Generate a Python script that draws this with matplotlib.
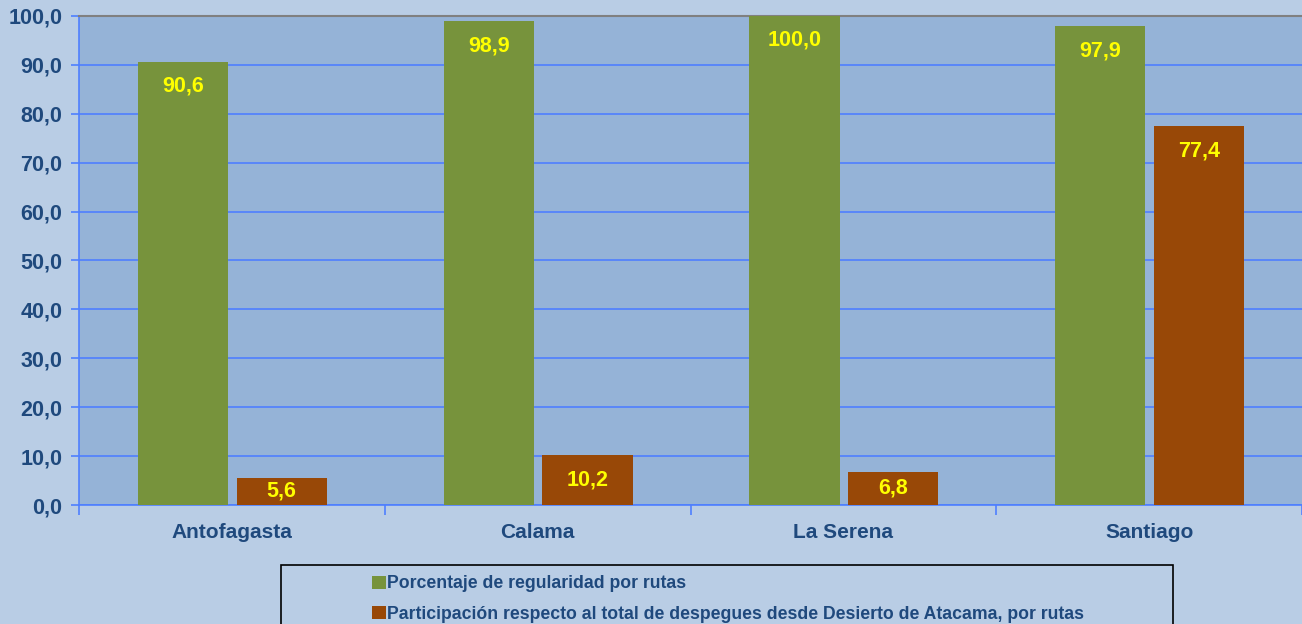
import matplotlib
matplotlib.use("Agg")
import matplotlib.pyplot as plt
import numpy as np
from matplotlib.patches import Rectangle

plt.rcParams['font.family'] = ['Liberation Sans', 'DejaVu Sans']

routes = ["Antofagasta", "Calama", "La Serena", "Santiago"]
regularidad = [90.6, 98.9, 100.0, 97.9]
participacion = [5.6, 10.2, 6.8, 77.4]
series_names = ["Porcentaje de regularidad por rutas",
                "Participación respecto al total de despegues desde Desierto de Atacama, por rutas"]
yticks = [0, 10, 20, 30, 40, 50, 60, 70, 80, 90, 100]

fig_bg = "#B9CDE5"
ax_bg = "#95B3D7"
green = "#77933C"
brown = "#984807"
navy = "#1F497D"
gridblue = "#4F7FFF"

fig = plt.figure(figsize=(13.02, 6.24), dpi=100, facecolor=fig_bg)
ax = fig.add_axes([0.0607, 0.1907, 0.9393, 0.7837], facecolor=ax_bg)

x = np.arange(len(routes))
w = 0.295
b1 = ax.bar(x - 0.16, regularidad, w, color=green, zorder=3)
b2 = ax.bar(x + 0.163, participacion, w, color=brown, zorder=3)

# labels sit a fixed distance below the bar top, or mid-bar for short bars
for bars, vals in ((b1, regularidad), (b2, participacion)):
    for r, v in zip(bars, vals):
        ax.text(r.get_x() + r.get_width() / 2, max(v - 5.0, v / 2),
                f"{v:.1f}".replace(".", ","), ha="center", va="center",
                color="#FFFF00", fontsize=15.5, fontweight="bold", zorder=4)

ax.set_xlim(-0.5, 3.5)
ax.set_ylim(0, 100)
ax.set_yticks(yticks)
ax.set_yticklabels([f"{t:.1f}".replace(".", ",") for t in yticks],
                   fontsize=15.5, fontweight="bold", color=navy)
ax.yaxis.grid(True, color=gridblue, linewidth=1.2, zorder=1)
ax.set_axisbelow(True)

ax.set_xticks(np.arange(-0.5, 4.0, 1.0))
ax.set_xticklabels([])
ax.set_xticks(x, minor=True)
ax.set_xticklabels(routes, minor=True, fontsize=15, fontweight="bold", color=navy)
ax.tick_params(axis="x", which="minor", length=0, pad=13)
ax.tick_params(axis="x", which="major", length=7, color=gridblue, width=1.2)
ax.tick_params(axis="y", length=6, color=gridblue, width=1.2, pad=6)

for s in ("left", "bottom"):
    ax.spines[s].set_color(gridblue)
    ax.spines[s].set_linewidth(1.2)
ax.spines["top"].set_color("#808080")
ax.spines["top"].set_linewidth(1.5)
ax.spines["right"].set_visible(False)

fig.patches.append(Rectangle((281 / 1302, -0.01), (1173 - 281) / 1302, (624 - 565) / 624 + 0.01,
                             transform=fig.transFigure, facecolor="none", edgecolor="black",
                             linewidth=1.2))
leg = fig.legend([b1, b2], series_names, loc="upper left",
                 bbox_to_anchor=(360 / 1302, 1 - 563 / 624), frameon=False,
                 handlelength=0.75, handleheight=0.75, handletextpad=0.1,
                 labelspacing=0.75, borderpad=0.2,
                 prop={"weight": "bold", "size": 12.7})
for t in leg.get_texts():
    t.set_color(navy)

fig.savefig("out.png", dpi=100, facecolor=fig_bg)
